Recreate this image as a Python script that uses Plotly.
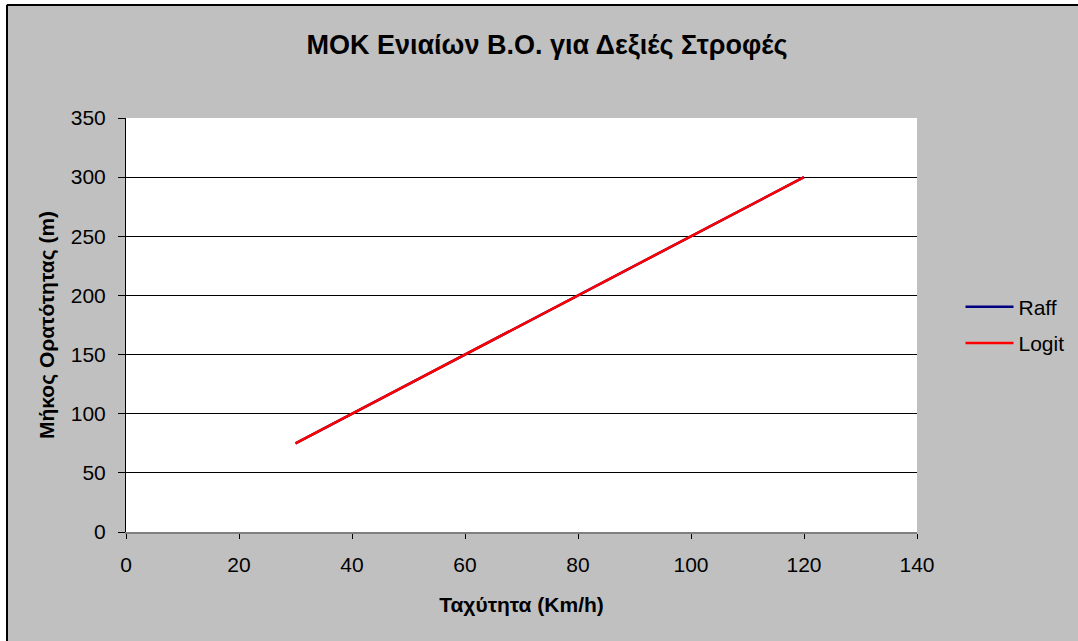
import plotly.graph_objects as go

speeds = [30, 40, 50, 60, 70, 80, 90, 100, 110, 120]
raff = [75, 100, 125, 150, 175, 200, 225, 250, 275, 300]
logit = [75, 100, 125, 150, 175, 200, 225, 250, 275, 300]

title = "ΜΟΚ Ενιαίων Β.Ο. για Δεξιές Στροφές"
x_title = "Ταχύτητα (Km/h)"
y_title = "Μήκος Ορατότητας (m)"
x_ticks = [0, 20, 40, 60, 80, 100, 120, 140]
y_ticks = [0, 50, 100, 150, 200, 250, 300, 350]

FONT = "Liberation Sans, Arial, sans-serif"

fig = go.Figure()
fig.add_trace(go.Scatter(x=speeds, y=raff, mode="lines", name="Raff", legendgroup="a",
                         line=dict(color="#000080", width=2.5)))
fig.add_trace(go.Scatter(x=speeds, y=logit, mode="lines", name="Logit", legendgroup="b",
                         line=dict(color="#FF0000", width=2.5)))

fig.update_layout(
    width=1078, height=641,
    paper_bgcolor="#C0C0C0", plot_bgcolor="#FFFFFF",
    margin=dict(l=126, r=161, t=118, b=109, autoexpand=False),
    font=dict(family=FONT, size=21, color="#000000"),
    title=dict(text="<b>" + title + "</b>", x=547 / 1078, xref="container", xanchor="center",
               y=1 - 45 / 641, yanchor="middle",
               font=dict(family=FONT, size=27, color="#000000")),
    showlegend=True,
    legend=dict(x=1.055, xanchor="left", y=0.5, yanchor="middle",
                bgcolor="rgba(0,0,0,0)", font=dict(family=FONT, size=21),
                itemwidth=48, tracegroupgap=6),
    xaxis=dict(range=[0, 140], tickvals=x_ticks, ticks="outside", ticklen=5,
               tickcolor="#000000", showgrid=False, zeroline=False,
               showline=True, linecolor="#808080", linewidth=2,
               ticklabelstandoff=8,
               title=dict(text="<b>" + x_title + "</b>", standoff=22,
                          font=dict(family=FONT, size=21)),
               tickfont=dict(family=FONT, size=21)),
    yaxis=dict(range=[0, 350], tickvals=y_ticks, ticks="outside", ticklen=7,
               tickcolor="#000000", showgrid=True, gridcolor="#000000", gridwidth=1,
               zeroline=False, showline=True, linecolor="#000000", linewidth=1,
               ticklabelstandoff=8,
               title=dict(text="<b>" + y_title + "</b>", standoff=10,
                          font=dict(family=FONT, size=21)),
               tickfont=dict(family=FONT, size=21)),
)

pw = 1078 - 126 - 161
ph = 641 - 118 - 109
def px_to_paper_x(px):
    return (px - 126) / pw
def px_to_paper_y(py):
    return (641 - 109 - py) / ph

frame_left = 7
frame_top = 5
fig.add_shape(type="rect", xref="paper", yref="paper",
              x0=px_to_paper_x(0), x1=px_to_paper_x(frame_left - 1),
              y0=px_to_paper_y(641), y1=px_to_paper_y(0),
              fillcolor="#FFFFFF", line=dict(width=0), layer="below")
fig.add_shape(type="rect", xref="paper", yref="paper",
              x0=px_to_paper_x(0), x1=px_to_paper_x(1078),
              y0=px_to_paper_y(frame_top - 1), y1=px_to_paper_y(0),
              fillcolor="#FFFFFF", line=dict(width=0), layer="below")
fig.add_shape(type="line", xref="paper", yref="paper",
              x0=px_to_paper_x(frame_left), x1=px_to_paper_x(frame_left),
              y0=px_to_paper_y(641), y1=px_to_paper_y(frame_top),
              line=dict(color="#000000", width=2))
fig.add_shape(type="line", xref="paper", yref="paper",
              x0=px_to_paper_x(frame_left), x1=px_to_paper_x(1078),
              y0=px_to_paper_y(frame_top), y1=px_to_paper_y(frame_top),
              line=dict(color="#000000", width=2))

fig.write_html("out.html")
